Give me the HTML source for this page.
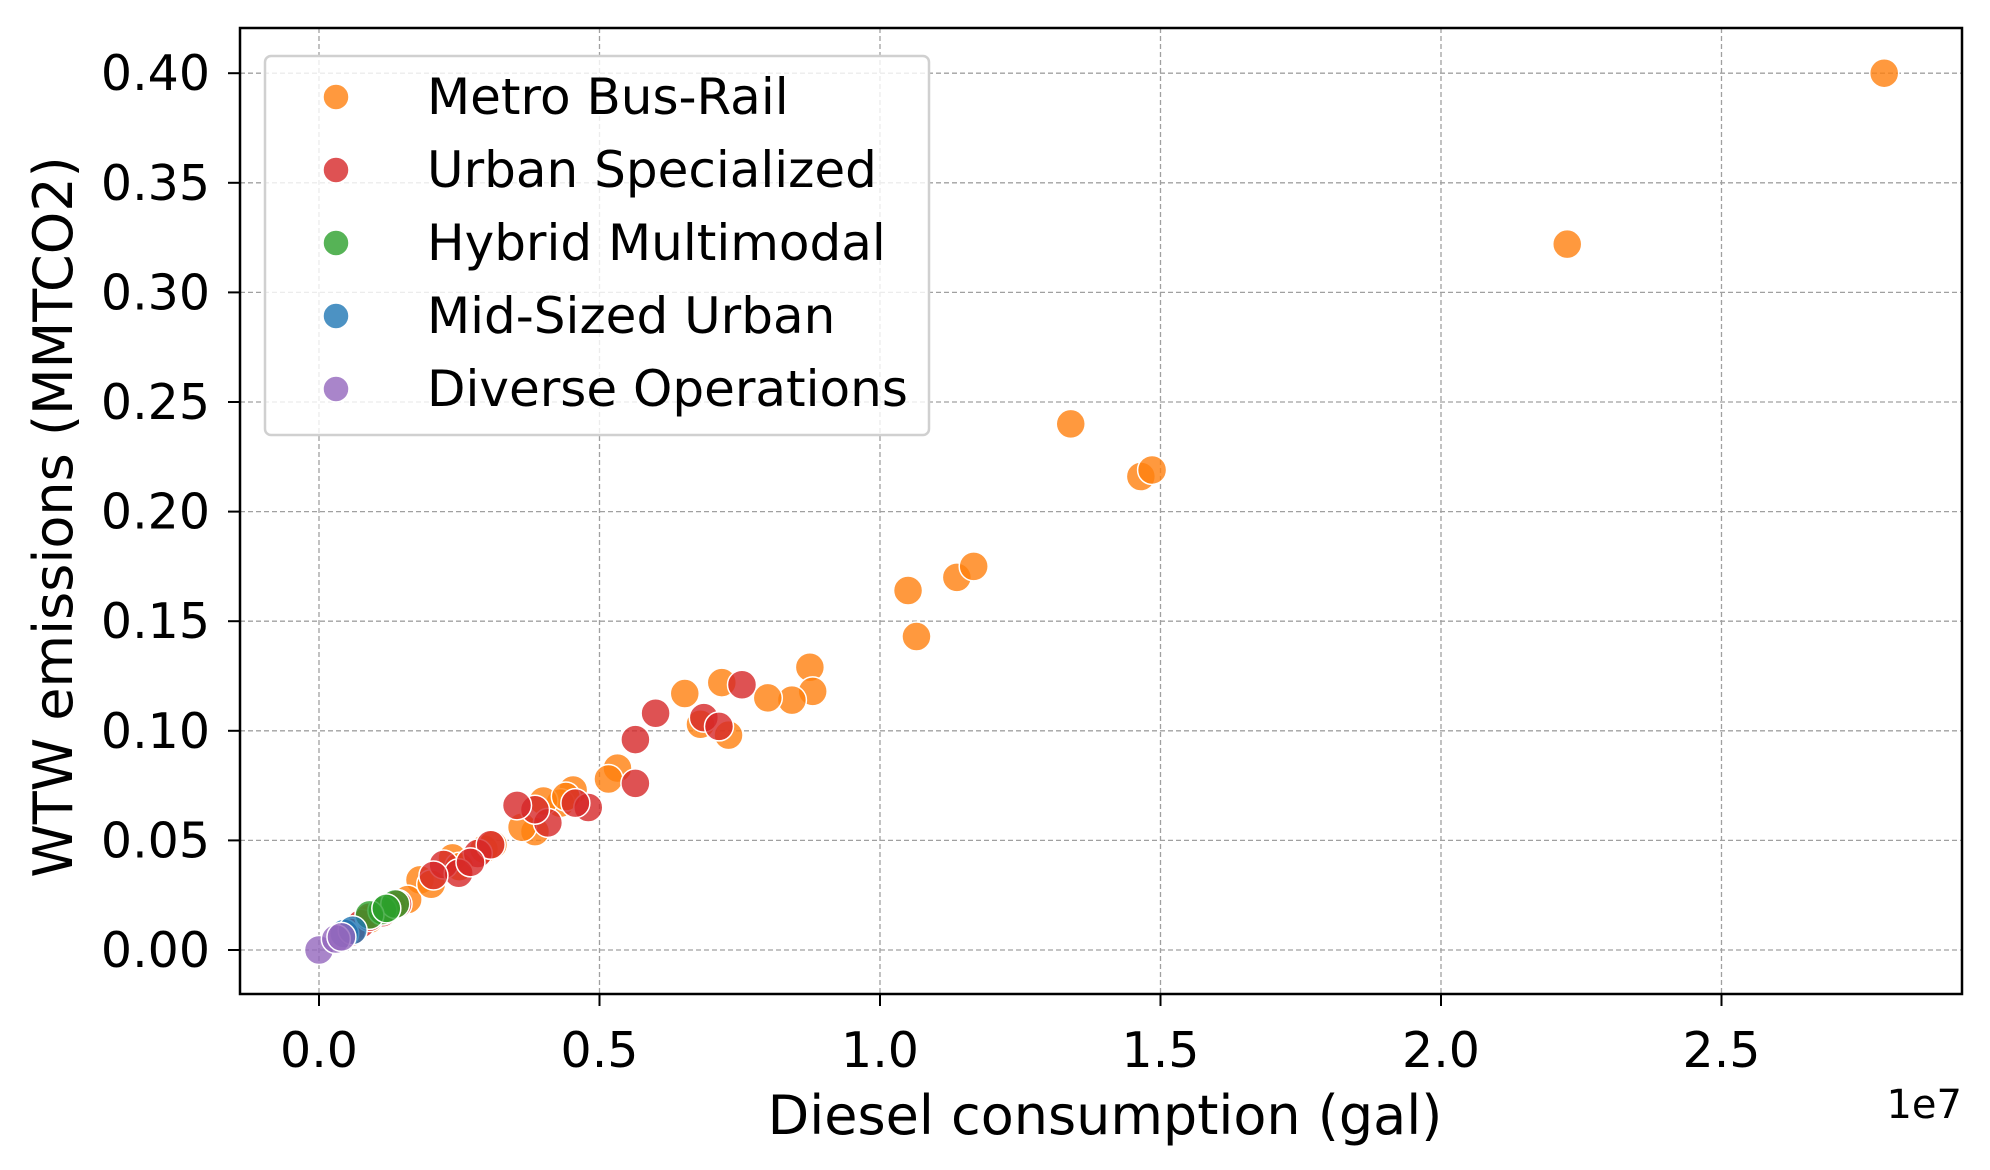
<!DOCTYPE html>
<html><head><meta charset="utf-8"><style>
html,body{margin:0;padding:0;background:#fff;}
svg{display:block;font-family:"DejaVu Sans","Liberation Sans",sans-serif;}
</style></head><body>
<svg id="chart" width="1990" height="1170" viewBox="0 0 1990 1170">
<rect x="0" y="0" width="1990" height="1170" fill="#fff"/>
<g id="grid"></g>
<g id="points"></g>
<rect x="240" y="28" width="1722" height="966" fill="none" stroke="#000" stroke-width="2.5"/>
<g id="ticks"></g>
<text x="1105" y="1134" font-size="54" text-anchor="middle">Diesel consumption (gal)</text>
<text x="1962" y="1118" font-size="40" text-anchor="end">1e7</text>
<text transform="translate(72,517) rotate(-90)" font-size="54" text-anchor="middle">WTW emissions (MMTCO2)</text>
<g id="legend"></g>
</svg>
<script>
const categories=["Metro Bus-Rail","Urban Specialized","Hybrid Multimodal","Mid-Sized Urban","Diverse Operations"];
const colors=["#ff7f0e","#d62728","#2ca02c","#1f77b4","#9467bd"];
const xTicks=[0,0.5,1.0,1.5,2.0,2.5];
const xTickLabels=["0.0","0.5","1.0","1.5","2.0","2.5"];
const yTicks=[0,0.05,0.10,0.15,0.20,0.25,0.30,0.35,0.40];
const yTickLabels=["0.00","0.05","0.10","0.15","0.20","0.25","0.30","0.35","0.40"];
const metroX=[2.79,2.225,1.34,1.465,1.485,1.05,1.065,1.137,1.167,0.875,0.88,0.843,0.80,0.718,0.652,0.73,0.68,0.532,0.516,0.453,0.43,0.385,0.362,0.294,0.238,0.18,0.158,0.2,0.09,0.4,0.44,0.31,0.25,0.13];
const metroY=[0.40,0.322,0.240,0.216,0.219,0.164,0.143,0.170,0.175,0.129,0.118,0.114,0.115,0.122,0.117,0.098,0.103,0.083,0.078,0.073,0.067,0.054,0.056,0.046,0.042,0.032,0.023,0.030,0.014,0.068,0.070,0.048,0.038,0.020];
const urbanX=[0.754,0.60,0.564,0.564,0.686,0.713,0.48,0.457,0.408,0.385,0.353,0.283,0.306,0.222,0.249,0.113,0.075,0.057,0.204,0.27,0.14,0.09];
const urbanY=[0.121,0.108,0.096,0.076,0.106,0.102,0.065,0.067,0.058,0.064,0.066,0.044,0.048,0.039,0.035,0.017,0.012,0.008,0.034,0.040,0.021,0.015];
const hybridX=[0.113,0.136,0.09,0.12];
const hybridY=[0.018,0.021,0.016,0.019];
const midX=[0.045,0.06];
const midY=[0.0075,0.009];
const diverseX=[0,0.03,0.04];
const diverseY=[0,0.005,0.006];
const seriesX=[metroX,urbanX,hybridX,midX,diverseX];
const seriesY=[metroY,urbanY,hybridY,midY,diverseY];
const NS="http://www.w3.org/2000/svg";
const xs=v=>319+v*561;
const ys=v=>950-v*2192;
function mk(tag,attrs,parent){const e=document.createElementNS(NS,tag);for(const k in attrs)e.setAttribute(k,attrs[k]);parent.appendChild(e);return e;}
const grid=document.getElementById('grid'),ticks=document.getElementById('ticks');
xTicks.forEach((t,i)=>{
 const g=mk('line',{x1:xs(t),x2:xs(t),y1:28,y2:994,stroke:'#a0a0a0','stroke-width':1.3,'stroke-dasharray':'5,3'},grid);
 
 
 const l=mk('line',{x1:xs(t),x2:xs(t),y1:994,y2:1006,stroke:'#000','stroke-width':2},ticks);
 
 
 const tx=mk('text',{x:xs(t),y:1067,'font-size':49,'text-anchor':'middle'},ticks);
 tx.textContent=xTickLabels[i];
 
 
});
yTicks.forEach((t,i)=>{
 const g=mk('line',{x1:240,x2:1962,y1:ys(t),y2:ys(t),stroke:'#a0a0a0','stroke-width':1.3,'stroke-dasharray':'5,3'},grid);
 
 
 const l=mk('line',{x1:228,x2:240,y1:ys(t),y2:ys(t),stroke:'#000','stroke-width':2},ticks);
 
 
 const tx=mk('text',{x:210,y:ys(t)+17,'font-size':49,'text-anchor':'end'},ticks);
 tx.textContent=yTickLabels[i];
 
 
});
const pts=document.getElementById('points');
seriesX.forEach((arr,s)=>{
 arr.forEach((x,i)=>{
  const c=mk('circle',{cx:xs(x),cy:ys(seriesY[s][i]),r:14.5,fill:colors[s],'fill-opacity':0.8,stroke:'#fff','stroke-width':1.5},pts);
  
  
 });
});
const leg=document.getElementById('legend');
const box=mk('rect',{x:265,y:56,width:664,height:379,rx:6,fill:'#fff','fill-opacity':0.8,stroke:'#d0d0d0','stroke-width':2.5},leg);


categories.forEach((c,i)=>{
 const y=97+i*73;
 const m=mk('circle',{cx:336,cy:y,r:13,fill:colors[i],'fill-opacity':0.8,stroke:'#fff','stroke-width':1.5},leg);
 
 
 const t=mk('text',{x:427,y:y+17,'font-size':50},leg);
 t.textContent=c;
 
 
});
</script>
</body></html>
